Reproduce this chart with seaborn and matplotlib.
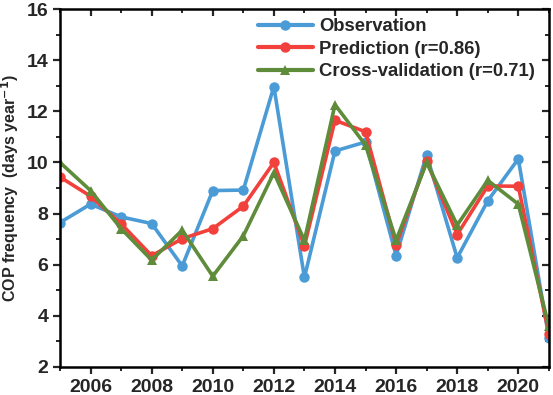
import pandas as pd
import matplotlib.pyplot as plt
import seaborn as sns
from matplotlib.ticker import MultipleLocator

# 数据
years = list(range(2005, 2022))
observation = [7.65, 8.37, 7.87, 7.61, 5.95, 8.9, 8.92, 12.97, 5.5, 10.45, 10.8,
               6.36, 10.3, 6.27, 8.5, 10.14, 3.15]
prediction = [9.43, 8.68, 7.6, 6.35, 7.02, 7.41, 8.29, 10.0, 6.73, 11.65, 11.2,
              6.79, 10.05, 7.18, 9.08, 9.07, 3.3]
cross_val = [10.0, 8.9, 7.41, 6.18, 7.35, 5.55, 7.13, 9.6, 6.95, 12.26, 10.68,
             6.96, 10.0, 7.55, 9.3, 8.37, 3.6]

labels = ['Observation', 'Prediction (r=0.86)', 'Cross-validation (r=0.71)']
colors = ['#4b9bd6', '#f2413c', '#5e8c3a']
markers = ['o', 'o', '^']

df = pd.DataFrame({'Year': years, labels[0]: observation,
                   labels[1]: prediction, labels[2]: cross_val})
long_df = df.melt(id_vars='Year', var_name='Series', value_name='Value')

sns.set_style('ticks')
plt.rcParams['font.family'] = ['Liberation Sans', 'DejaVu Sans']
plt.rcParams['font.weight'] = 'bold'

fig = plt.figure(figsize=(5.53, 3.95), dpi=100)
ax = fig.add_axes([0.1085, 0.071, 0.884, 0.906])

for lab, c, m in zip(labels, colors, markers):
    sns.lineplot(data=long_df[long_df['Series'] == lab], x='Year', y='Value',
                 color=c, marker=m, markersize=7.5, markeredgewidth=0,
                 linewidth=2.6, label=lab, ax=ax)

ax.set_xlim(2005, 2021)
ax.set_ylim(2, 16)
ax.xaxis.set_minor_locator(MultipleLocator(1))
ax.yaxis.set_major_locator(MultipleLocator(2))
ax.yaxis.set_minor_locator(MultipleLocator(1))
ax.set_xticks(range(2006, 2021, 2))

for s in ax.spines.values():
    s.set_linewidth(1.8)
    s.set_color('black')

ax.tick_params(axis='both', which='major', direction='out', length=5, width=1.6,
               labelsize=14, top=False, right=False)
ax.tick_params(axis='both', which='minor', direction='out', length=3, width=1.4)

# 上、右两侧的刻度朝内
sec_x = ax.secondary_xaxis('top')
sec_x.set_xticks(range(2006, 2021, 2))
sec_x.xaxis.set_minor_locator(MultipleLocator(1))
sec_x.tick_params(which='major', direction='in', length=5, width=1.6, labeltop=False)
sec_x.tick_params(which='minor', direction='in', length=3, width=1.4)
sec_y = ax.secondary_yaxis('right')
sec_y.yaxis.set_major_locator(MultipleLocator(2))
sec_y.yaxis.set_minor_locator(MultipleLocator(1))
sec_y.tick_params(which='major', direction='in', length=5, width=1.6, labelright=False)
sec_y.tick_params(which='minor', direction='in', length=3, width=1.4)
for sa in (sec_x, sec_y):
    for s in sa.spines.values():
        s.set_visible(False)

for t in ax.get_xticklabels() + ax.get_yticklabels():
    t.set_fontweight('bold')

ax.set_xlabel('')
ax.set_ylabel('COP frequency  (days year$^{\\mathbf{-1}}$)', fontsize=11.5,
              fontweight='bold', labelpad=4)

leg = ax.legend(loc='upper right', bbox_to_anchor=(0.995, 1.005), frameon=False,
                fontsize=13.3, handlelength=3.0, handletextpad=0.35,
                labelspacing=0.3, borderaxespad=0.2)
for t in leg.get_texts():
    t.set_fontweight('bold')
for h in leg.legend_handles:
    h.set_linewidth(3)

plt.savefig('out.png', dpi=100)
